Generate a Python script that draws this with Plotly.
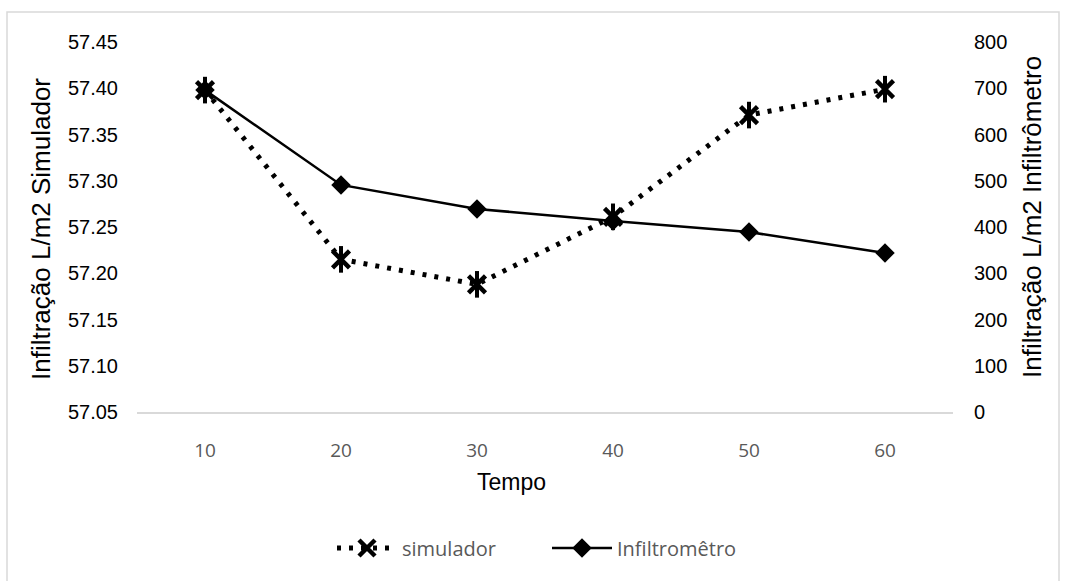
import plotly.graph_objects as go

# Data
tempo = [10, 20, 30, 40, 50, 60]
simulador = [57.398, 57.215, 57.188, 57.261, 57.371, 57.399]
infiltrometro = [696, 491, 439, 413, 389, 344]

left_ticks = [57.05, 57.10, 57.15, 57.20, 57.25, 57.30, 57.35, 57.40, 57.45]
right_ticks = [0, 100, 200, 300, 400, 500, 600, 700, 800]

W, H = 1066, 581
ML, MR, MT, MB = 137, 113, 42, 169
PW, PH = W - ML - MR, H - MT - MB


def px_x(x):
    return (x - ML) / PW


def px_y(y):
    return (H - MB - y) / PH


fig = go.Figure()

# Simulador: dotted line with star markers (X plus vertical bar)
fig.add_trace(go.Scatter(
    x=tempo, y=simulador, name="simulador", mode="lines+markers",
    line=dict(color="black", width=5, dash="4px,8px"),
    marker=dict(symbol="x-thin-open", size=17, color="black",
                line=dict(color="black", width=4.5)),
    yaxis="y",
))
fig.add_trace(go.Scatter(
    x=tempo, y=simulador, mode="markers", showlegend=False, hoverinfo="skip",
    marker=dict(symbol="line-ns-open", size=19, color="black",
                line=dict(color="black", width=4)),
    yaxis="y",
))

# Infiltrômetro: solid line with diamond markers
fig.add_trace(go.Scatter(
    x=tempo, y=infiltrometro, name="Infiltromêtro", mode="lines+markers",
    line=dict(color="black", width=2.5),
    marker=dict(symbol="diamond", size=15, color="black"),
    yaxis="y2",
))

tick_font = dict(family="Liberation Sans, Arial, sans-serif", size=20, color="black")
title_font = dict(family="Liberation Sans, Arial, sans-serif", size=26, color="black")

fig.update_layout(
    width=W, height=H,
    margin=dict(l=ML, r=MR, t=MT, b=MB),
    paper_bgcolor="white", plot_bgcolor="white",
    showlegend=True,
    legend=dict(
        orientation="h", x=px_x(332), y=px_y(548), xanchor="left", yanchor="middle",
        font=dict(family="Open Sans, sans-serif", size=20, color="#595959"),
        itemwidth=60, entrywidth=140, entrywidthmode="pixels", tracegroupgap=0,
    ),
    xaxis=dict(
        range=[5, 65], tickvals=tempo, ticktext=[str(t) for t in tempo],
        showgrid=False, zeroline=False,
        showline=True, linecolor="#d9d9d9", linewidth=1.5,
        ticks="", ticklabelstandoff=20,
        tickfont=dict(family="Open Sans, sans-serif", size=19, color="#595959"),
    ),
    yaxis=dict(
        range=[57.05, 57.45], tickvals=left_ticks,
        ticktext=[f"{v:.2f}" for v in left_ticks],
        showgrid=False, zeroline=False, showline=False, ticks="",
        ticklabelstandoff=18, tickfont=tick_font,
    ),
    yaxis2=dict(
        range=[0, 800], tickvals=right_ticks,
        ticktext=[str(v) for v in right_ticks],
        overlaying="y", side="right",
        showgrid=False, zeroline=False, showline=False, ticks="",
        ticklabelstandoff=20, tickfont=tick_font,
    ),
    shapes=[dict(
        type="rect", xref="paper", yref="paper",
        x0=px_x(7), x1=px_x(1059), y0=px_y(584), y1=px_y(12),
        line=dict(color="#d9d9d9", width=1.5), fillcolor="rgba(0,0,0,0)",
        layer="below",
    )],
    annotations=[
        dict(text="Tempo", xref="paper", yref="paper", x=px_x(511), y=px_y(482),
             showarrow=False, xanchor="center", yanchor="middle",
             font=dict(family="Liberation Sans, Arial, sans-serif", size=23, color="black")),
        dict(text="Infiltração L/m2 Simulador", xref="paper", yref="paper",
             x=px_x(41), y=px_y(229), textangle=-90, showarrow=False,
             xanchor="center", yanchor="middle", font=title_font),
        dict(text="Infiltração L/m2 Infiltrômetro", xref="paper", yref="paper",
             x=px_x(1032), y=px_y(217), textangle=-90, showarrow=False,
             xanchor="center", yanchor="middle", font=title_font),
    ],
)

fig.write_html("out.html")
